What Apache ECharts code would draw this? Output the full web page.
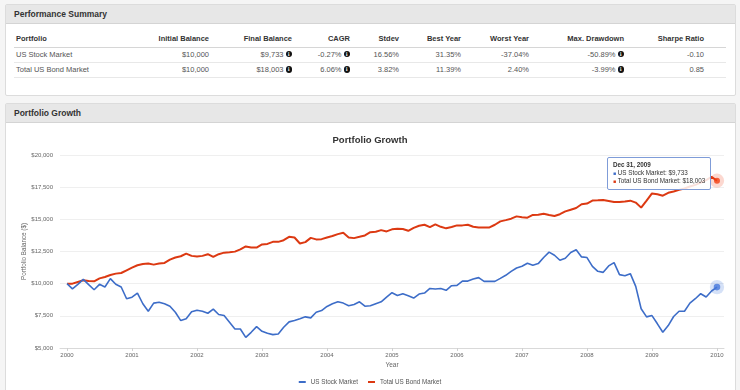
<!DOCTYPE html>
<html>
<head>
<meta charset="utf-8">
<script src="https://cdn.jsdelivr.net/npm/echarts@6/dist/echarts.min.js"></script>
<style>
  html, body { margin:0; padding:0; width:740px; height:390px; overflow:hidden; background:#f5f5f5;
    font-family:"Liberation Sans", Arial, sans-serif; }
  .panel { position:absolute; left:5px; width:729px; background:#fff; border:1px solid #dcdcdc; border-radius:2px; }
  .phead { position:absolute; left:0; top:0; right:0; height:19px; background:#e7e7e7; border-bottom:1px solid #d4d4d4;
    font-weight:bold; font-size:8.5px; color:#333; line-height:19px; padding-left:8px; box-sizing:border-box; }
  .cell { position:absolute; left:0; height:10px; line-height:10px; font-size:7.5px; color:#555; white-space:nowrap; }
  .cell.h { font-weight:bold; color:#333; }
  .rule { position:absolute; left:14px; width:712px; height:1px; background:#e8e8e8; }
  .info { display:inline-block; width:6.5px; height:6.5px; border-radius:50%; background:#111; color:#fff;
    font-size:5px; font-weight:bold; line-height:6.5px; text-align:center; vertical-align:middle; margin-left:2px;
    font-family:"DejaVu Serif", serif; position:relative; top:-0.5px; }
  #chart { position:absolute; left:0; top:0; width:740px; height:390px; }
</style>
</head>
<body>
<div class="panel" style="top:4px;height:90px;"><div class="phead">Performance Summary</div></div>
<div class="panel" style="top:103px;height:300px;"><div class="phead">Portfolio Growth</div></div>
<div id="table"></div>
<div id="chart"></div>
<script>
// ---------- table data ----------
const tableHeaders = ['Portfolio','Initial Balance','Final Balance','CAGR','Stdev','Best Year','Worst Year','Max. Drawdown','Sharpe Ratio'];
const portfolios = ['US Stock Market','Total US Bond Market'];
const initialBalance = ['$10,000','$10,000'];
const finalBalance = ['$9,733','$18,003'];
const cagr = ['-0.27%','6.06%'];
const stdev = ['16.56%','3.82%'];
const bestYear = ['31.35%','11.39%'];
const worstYear = ['-37.04%','2.40%'];
const maxDrawdown = ['-50.89%','-3.99%'];
const sharpeRatio = ['-0.10','0.85'];

// ---------- chart data ----------
const seriesNames = ['US Stock Market','Total US Bond Market'];
const yearTicks = [2000,2001,2002,2003,2004,2005,2006,2007,2008,2009,2010];
const startYear = 2000;
const tooltipDate = 'Dec 31, 2009';
const stockValues = [
 10000, 9600, 9950,10330, 9920, 9530, 9950, 9740,10390, 9950, 9740, 8830,
  8950, 9270, 8440, 7860, 8490, 8560, 8440, 8250, 7780, 7130, 7270, 7810,
  7940, 7860, 7700, 8020, 7600, 7520, 7000, 6480, 6480, 5830, 6220, 6660,
  6300, 6140, 6040, 6090, 6610, 7030, 7130, 7270, 7420, 7340, 7780, 7910,
  8230, 8440, 8590, 8490, 8280, 8380, 8590, 8250, 8280, 8440, 8590, 8960,
  9300, 9080, 9220, 9060, 8880, 9190, 9270, 9630, 9580, 9630, 9480, 9840,
  9870,10200,10200,10360,10470,10180,10180,10180,10410,10650,10960,11220,
 11350,11590,11430,11560,12030,12450,12210,11820,11980,12420,12630,12080,
 12030,11350,10960,10880,11380,11640,10700,10620,10780, 9790, 8050, 7420,
  7520, 6880, 6220, 6740, 7450, 7860, 7860, 8490, 8830, 9220, 8960, 9430,
  9733];
const bondValues = [
 10000,10000,10130,10260,10200,10180,10410,10520,10670,10780,10830,11040,
 11250,11430,11530,11560,11480,11560,11610,11870,12030,12130,12340,12160,
 12110,12160,12290,12080,12290,12410,12440,12490,12660,12890,12810,12810,
 13050,13090,13250,13250,13380,13640,13590,13120,13230,13560,13440,13460,
 13590,13700,13850,13950,13590,13540,13640,13750,14000,14030,14160,14060,
 14220,14260,14250,14110,14340,14500,14580,14400,14610,14420,14300,14400,
 14530,14530,14580,14420,14370,14370,14370,14580,14840,14940,15050,15230,
 15160,15130,15340,15360,15440,15340,15260,15400,15620,15750,15880,16170,
 16230,16460,16480,16510,16430,16350,16350,16380,16450,16300,15910,16450,
 17010,16950,16840,17060,17160,17290,17400,17550,17680,17850,18050,18300,
 18003];

// ---------- build table ----------
const colRight = [null,209,292,350,399,461,529,624,704];
const iconCols = {2:true,3:true,7:true};
const rowCenters = [39,54.5,70];
const rulesY = [47,62,77];
const rows = [tableHeaders];
for (let r = 0; r < portfolios.length; r++) {
  rows.push([portfolios[r], initialBalance[r], finalBalance[r], cagr[r], stdev[r], bestYear[r], worstYear[r], maxDrawdown[r], sharpeRatio[r]]);
}
let html = '';
rows.forEach((row, r) => {
  row.forEach((txt, c) => {
    const top = rowCenters[r] - 5;
    const cls = 'cell' + (r === 0 ? ' h' : '');
    const content = txt + (r > 0 && iconCols[c] ? '<span class="info">i</span>' : '');
    if (c === 0) {
      html += `<div class="${cls}" style="left:16px;top:${top}px;">${content}</div>`;
    } else {
      html += `<div class="${cls}" style="width:${colRight[c]}px;text-align:right;top:${top}px;">${content}</div>`;
    }
  });
});
rulesY.forEach((y, i) => {
  html += `<div class="rule" style="top:${y}px;background:${i === 0 ? '#d6d6d6' : '#e8e8e8'};"></div>`;
});
document.getElementById('table').innerHTML = html;

// ---------- chart ----------
const stockColor = '#3d6dc8';
const bondColor = '#dc3912';
const toXY = (vals) => vals.map((v, i) => [startYear + i / 12, v]);
const stockData = toXY(stockValues);
const bondData = toXY(bondValues);
const lastIdx = stockValues.length - 1;
const fmt = (v) => '$' + v.toLocaleString('en-US');

const chart = echarts.init(document.getElementById('chart'), null, {renderer:'canvas'});
const fontFamily = '"Liberation Sans", Arial, sans-serif';
chart.setOption({
  animation: false,
  textStyle: { fontFamily },
  title: {
    text: 'Portfolio Growth', left: 'center', top: 130,
    textStyle: { fontSize: 9.5, fontWeight: 'bold', color: '#333', fontFamily }
  },
  legend: {
    data: seriesNames, bottom: 0, left: 'center', icon: 'rect', itemWidth: 7, itemHeight: 2,
    itemGap: 10, textStyle: { fontSize: 6.3, color: '#555', fontFamily }, selectedMode: false
  },
  grid: { left: 60, right: 16, top: 155, bottom: 42, containLabel: false },
  xAxis: {
    type: 'value', min: 1999.892, max: 2010.108,
    name: 'Year', nameLocation: 'middle', nameGap: 14, nameMoveOverlap: false,
    nameTextStyle: { fontSize: 6.5, color: '#666', fontFamily },
    axisLine: { show: true, lineStyle: { color: '#d9d9d9', width: 1 } },
    axisTick: { show: true, length: 3, lineStyle: { color: '#d0d0d0' }, customValues: yearTicks },
    axisLabel: { fontSize: 6, color: '#666', margin: 4, customValues: yearTicks, formatter: (v) => String(Math.round(v)) },
    splitLine: { show: false }
  },
  yAxis: {
    type: 'value', min: 5000, max: 20000, interval: 2500,
    name: 'Portfolio Balance ($)', nameLocation: 'middle', nameGap: 33, nameRotate: 90, nameMoveOverlap: false,
    nameTextStyle: { fontSize: 6.3, color: '#666', fontFamily },
    axisLine: { show: false }, axisTick: { show: false },
    axisLabel: { fontSize: 6, color: '#666', margin: 7, formatter: (v) => fmt(v) },
    splitLine: { show: true, lineStyle: { color: '#efefef', width: 1 } }
  },
  tooltip: {
    trigger: 'axis', triggerOn: 'none', alwaysShowContent: true, showDelay: 0, transitionDuration: 0,
    axisPointer: { type: 'none' },
    position: [607, 157],
    backgroundColor: 'rgba(255,255,255,0.85)', borderColor: '#7f9cd8', borderWidth: 1, padding: [3, 5, 3, 5],
    extraCssText: 'box-shadow:none;border-radius:2px;',
    formatter: () => {
      const dot = (c) => `<span style="color:${c};font-size:5px;position:relative;top:-0.5px;">&#9632;</span>`;
      return `<div style="font-size:6.3px;line-height:8.2px;color:#333;font-family:${fontFamily.replace(/"/g,"'")}">` +
        `<b>${tooltipDate}</b><br>` +
        `${dot(stockColor)} ${seriesNames[0]}: ${fmt(stockValues[lastIdx])}<br>` +
        `${dot(bondColor)} ${seriesNames[1]}: ${fmt(bondValues[lastIdx])}</div>`;
    }
  },
  series: [
    { name: seriesNames[0], type: 'line', data: stockData, showSymbol: false, symbol: 'none',
      lineStyle: { color: stockColor, width: 1.6 }, itemStyle: { color: stockColor }, z: 3, emphasis: { disabled: true } },
    { name: seriesNames[1], type: 'line', data: bondData, showSymbol: false, symbol: 'none',
      lineStyle: { color: bondColor, width: 2 }, itemStyle: { color: bondColor }, z: 2, emphasis: { disabled: true } },
    { name: 'halo', type: 'scatter', silent: true, z: 4, symbolSize: 13,
      data: [
        { value: stockData[lastIdx], itemStyle: { color: 'rgba(61,109,200,0.28)' } },
        { value: bondData[lastIdx], itemStyle: { color: 'rgba(220,57,18,0.25)' } }
      ] },
    { name: 'dot', type: 'scatter', silent: true, z: 5,
      data: [
        { value: stockData[lastIdx], symbolSize: 6, itemStyle: { color: stockColor } },
        { value: bondData[lastIdx], symbolSize: 4, itemStyle: { color: bondColor } }
      ] }
  ]
});
chart.dispatchAction({ type: 'showTip', seriesIndex: 0, dataIndex: lastIdx });
</script>
</body>
</html>
